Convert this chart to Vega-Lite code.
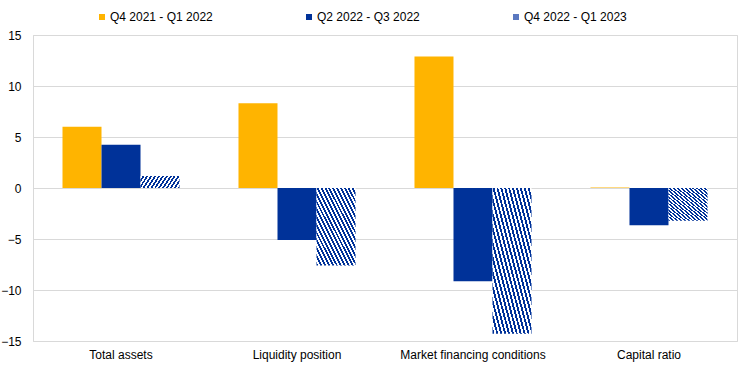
{
  "$schema": "https://vega.github.io/schema/vega-lite/v6.json",
  "width": 704,
  "height": 306,
  "autosize": "none",
  "padding": {"left": 33, "top": 35, "right": 7, "bottom": 42},
  "background": "white",
  "config": {
    "view": {"stroke": "#d9d9d9", "strokeWidth": 1},
    "font": "Liberation Sans"
  },
  "data": {
    "values": [
      {"category": "Total assets", "series": "Q4 2021 - Q1 2022", "value": 6.0},
      {"category": "Total assets", "series": "Q2 2022 - Q3 2022", "value": 4.25},
      {"category": "Total assets", "series": "Q4 2022 - Q1 2023", "value": 1.18},
      {"category": "Liquidity position", "series": "Q4 2021 - Q1 2022", "value": 8.3},
      {"category": "Liquidity position", "series": "Q2 2022 - Q3 2022", "value": -5.1},
      {"category": "Liquidity position", "series": "Q4 2022 - Q1 2023", "value": -7.6},
      {"category": "Market financing conditions", "series": "Q4 2021 - Q1 2022", "value": 12.9},
      {"category": "Market financing conditions", "series": "Q2 2022 - Q3 2022", "value": -9.15},
      {"category": "Market financing conditions", "series": "Q4 2022 - Q1 2023", "value": -14.3},
      {"category": "Capital ratio", "series": "Q4 2021 - Q1 2022", "value": 0.05},
      {"category": "Capital ratio", "series": "Q2 2022 - Q3 2022", "value": -3.65},
      {"category": "Capital ratio", "series": "Q4 2022 - Q1 2023", "value": -3.2}
    ]
  },
  "mark": {"type": "bar"},
  "encoding": {
    "x": {
      "field": "category",
      "type": "nominal",
      "sort": null,
      "scale": {"paddingInner": 0.335, "paddingOuter": 0.1676},
      "axis": {
        "title": null,
        "labelAngle": 0,
        "ticks": false,
        "domain": false,
        "labelFontSize": 12,
        "labelColor": "#000000",
        "labelPadding": 8,
        "labelFont": "Liberation Sans"
      }
    },
    "xOffset": {
      "field": "series",
      "type": "nominal",
      "sort": ["Q4 2021 - Q1 2022", "Q2 2022 - Q3 2022", "Q4 2022 - Q1 2023"],
      "scale": {"paddingInner": 0, "paddingOuter": 0}
    },
    "y": {
      "field": "value",
      "type": "quantitative",
      "scale": {"domain": [-15, 15], "nice": false, "zero": false},
      "axis": {
        "title": null,
        "values": [-15, -10, -5, 0, 5, 10, 15],
        "ticks": false,
        "domainColor": "#d9d9d9",
        "gridColor": "#d9d9d9",
        "gridWidth": 1,
        "labelFontSize": 12,
        "labelColor": "#000000",
        "labelPadding": 12,
        "labelFont": "Liberation Sans"
      }
    },
    "fill": {
      "condition": {
        "test": "datum.series === 'Q4 2022 - Q1 2023'",
        "value": {
          "gradient": "linear",
          "x1": 0, "y1": 1, "x2": 1, "y2": 0,
          "stops": [
            {"offset": 0, "color": "#003299"}, {"offset": 0.025, "color": "#003299"}, {"offset": 0.025, "color": "#ffffff"}, {"offset": 0.05, "color": "#ffffff"},
            {"offset": 0.05, "color": "#003299"}, {"offset": 0.075, "color": "#003299"}, {"offset": 0.075, "color": "#ffffff"}, {"offset": 0.1, "color": "#ffffff"},
            {"offset": 0.1, "color": "#003299"}, {"offset": 0.125, "color": "#003299"}, {"offset": 0.125, "color": "#ffffff"}, {"offset": 0.15, "color": "#ffffff"},
            {"offset": 0.15, "color": "#003299"}, {"offset": 0.175, "color": "#003299"}, {"offset": 0.175, "color": "#ffffff"}, {"offset": 0.2, "color": "#ffffff"},
            {"offset": 0.2, "color": "#003299"}, {"offset": 0.225, "color": "#003299"}, {"offset": 0.225, "color": "#ffffff"}, {"offset": 0.25, "color": "#ffffff"},
            {"offset": 0.25, "color": "#003299"}, {"offset": 0.275, "color": "#003299"}, {"offset": 0.275, "color": "#ffffff"}, {"offset": 0.3, "color": "#ffffff"},
            {"offset": 0.3, "color": "#003299"}, {"offset": 0.325, "color": "#003299"}, {"offset": 0.325, "color": "#ffffff"}, {"offset": 0.35, "color": "#ffffff"},
            {"offset": 0.35, "color": "#003299"}, {"offset": 0.375, "color": "#003299"}, {"offset": 0.375, "color": "#ffffff"}, {"offset": 0.4, "color": "#ffffff"},
            {"offset": 0.4, "color": "#003299"}, {"offset": 0.425, "color": "#003299"}, {"offset": 0.425, "color": "#ffffff"}, {"offset": 0.45, "color": "#ffffff"},
            {"offset": 0.45, "color": "#003299"}, {"offset": 0.475, "color": "#003299"}, {"offset": 0.475, "color": "#ffffff"}, {"offset": 0.5, "color": "#ffffff"},
            {"offset": 0.5, "color": "#003299"}, {"offset": 0.525, "color": "#003299"}, {"offset": 0.525, "color": "#ffffff"}, {"offset": 0.55, "color": "#ffffff"},
            {"offset": 0.55, "color": "#003299"}, {"offset": 0.575, "color": "#003299"}, {"offset": 0.575, "color": "#ffffff"}, {"offset": 0.6, "color": "#ffffff"},
            {"offset": 0.6, "color": "#003299"}, {"offset": 0.625, "color": "#003299"}, {"offset": 0.625, "color": "#ffffff"}, {"offset": 0.65, "color": "#ffffff"},
            {"offset": 0.65, "color": "#003299"}, {"offset": 0.675, "color": "#003299"}, {"offset": 0.675, "color": "#ffffff"}, {"offset": 0.7, "color": "#ffffff"},
            {"offset": 0.7, "color": "#003299"}, {"offset": 0.725, "color": "#003299"}, {"offset": 0.725, "color": "#ffffff"}, {"offset": 0.75, "color": "#ffffff"},
            {"offset": 0.75, "color": "#003299"}, {"offset": 0.775, "color": "#003299"}, {"offset": 0.775, "color": "#ffffff"}, {"offset": 0.8, "color": "#ffffff"},
            {"offset": 0.8, "color": "#003299"}, {"offset": 0.825, "color": "#003299"}, {"offset": 0.825, "color": "#ffffff"}, {"offset": 0.85, "color": "#ffffff"},
            {"offset": 0.85, "color": "#003299"}, {"offset": 0.875, "color": "#003299"}, {"offset": 0.875, "color": "#ffffff"}, {"offset": 0.9, "color": "#ffffff"},
            {"offset": 0.9, "color": "#003299"}, {"offset": 0.925, "color": "#003299"}, {"offset": 0.925, "color": "#ffffff"}, {"offset": 0.95, "color": "#ffffff"},
            {"offset": 0.95, "color": "#003299"}, {"offset": 0.975, "color": "#003299"}, {"offset": 0.975, "color": "#ffffff"}, {"offset": 1, "color": "#ffffff"}
          ]
        }
      },
      "field": "series",
      "type": "nominal",
      "scale": {
        "domain": ["Q4 2021 - Q1 2022", "Q2 2022 - Q3 2022", "Q4 2022 - Q1 2023"],
        "range": ["#FFB400", "#003299", "#5a78c0"]
      },
      "legend": {
        "title": null,
        "orient": "none",
        "direction": "horizontal",
        "legendX": 63,
        "legendY": -24,
        "symbolType": "square",
        "symbolSize": 36,
        "symbolOffset": 0,
        "symbolStrokeWidth": 0,
        "labelOffset": 2,
        "columnPadding": 90,
        "labelFontSize": 12,
        "labelColor": "#000000",
        "labelFont": "Liberation Sans",
        "encode": {
          "symbols": {
            "update": {
              "fill": [
                {
                  "test": "datum.value === 'Q4 2022 - Q1 2023'",
                  "value": {
                    "gradient": "linear",
                    "x1": 0, "y1": 1, "x2": 1, "y2": 0,
                    "stops": [
                      {"offset": 0, "color": "#003299"}, {"offset": 0.17, "color": "#003299"}, {"offset": 0.17, "color": "#ffffff"}, {"offset": 0.33, "color": "#ffffff"},
                      {"offset": 0.33, "color": "#003299"}, {"offset": 0.5, "color": "#003299"}, {"offset": 0.5, "color": "#ffffff"}, {"offset": 0.67, "color": "#ffffff"},
                      {"offset": 0.67, "color": "#003299"}, {"offset": 0.83, "color": "#003299"}, {"offset": 0.83, "color": "#ffffff"}, {"offset": 1, "color": "#ffffff"}
                    ]
                  }
                },
                {"scale": "fill", "field": "value"}
              ],
              "stroke": {"value": "transparent"}
            }
          }
        }
      }
    }
  }
}
